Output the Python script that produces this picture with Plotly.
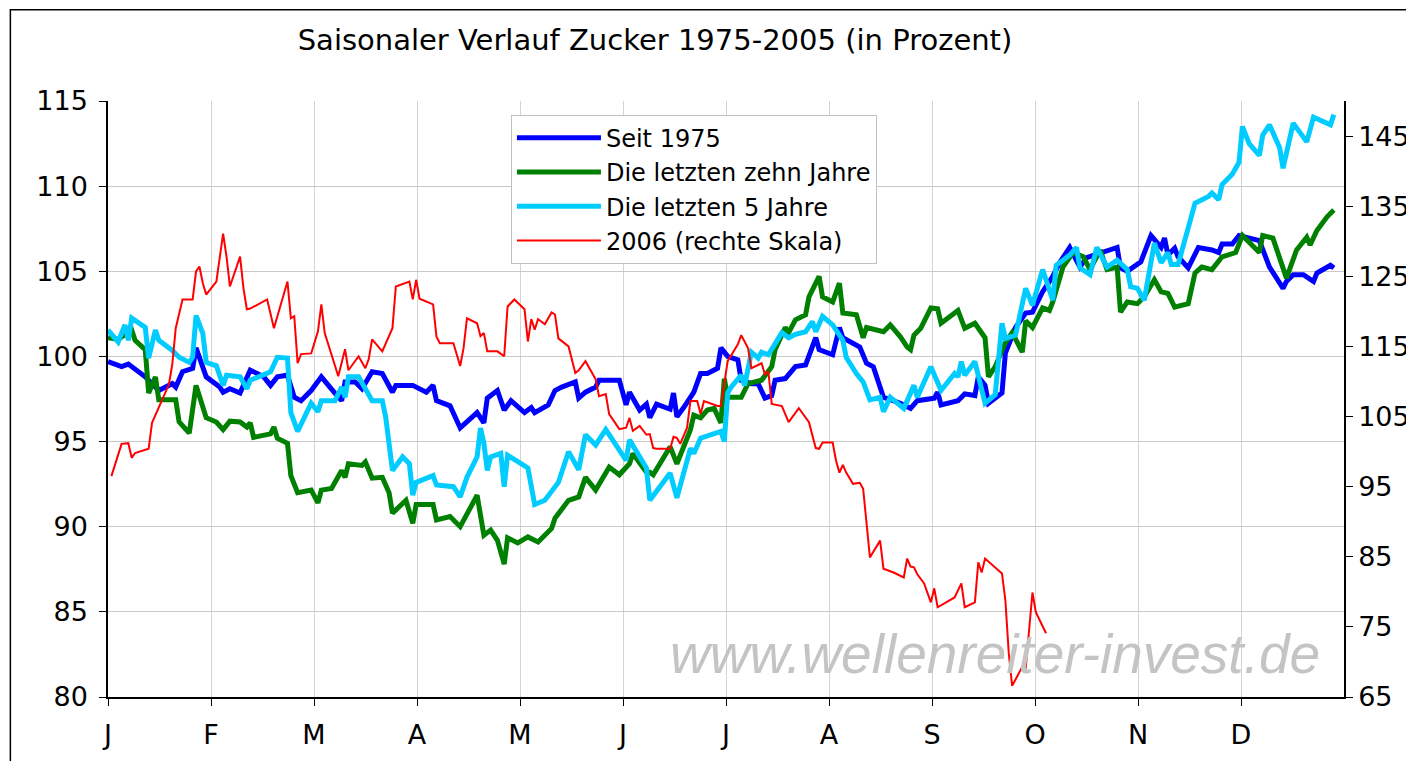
import plotly.graph_objects as go

# ---- data (x = day of year, 0..365; months equally spaced) ----
month_labels = ["J", "F", "M", "A", "M", "J", "J", "A", "S", "O", "N", "D"]

seit1975_day = [0, 4, 6, 11, 15, 16, 19, 20, 22, 25, 26, 29, 33, 34, 36, 39, 42, 46, 48, 50, 53, 55, 57, 60, 63, 67, 69, 70, 73, 75, 78, 81, 84, 85, 90, 94, 96, 97, 101, 104, 109, 111, 112, 115, 117, 119, 123, 125, 126, 130, 132, 134, 138, 139, 141, 144, 145, 151, 153, 154, 157, 159, 160, 162, 166, 167, 168, 170, 173, 175, 177, 180, 181, 183, 186, 187, 190, 192, 194, 196, 197, 200, 203, 206, 209, 210, 214, 216, 217, 222, 224, 226, 229, 234, 237, 239, 244, 245, 246, 251, 253, 256, 257, 259, 260, 264, 265, 268, 271, 273, 276, 279, 281, 284, 287, 289, 293, 298, 299, 301, 305, 308, 311, 312, 313, 315, 316, 319, 322, 326, 328, 329, 332, 334, 340, 342, 343, 347, 348, 350, 353, 356, 357, 361, 362]
seit1975_val = [99.7, 99.4, 99.55, 98.8, 98.0, 98.1, 98.4, 98.2, 99.1, 99.3, 100.5, 98.8, 98.2, 97.9, 98.1, 97.85, 99.2, 98.8, 98.3, 98.8, 98.9, 97.6, 97.4, 98.0, 98.8, 97.85, 97.4, 98.5, 98.5, 98.1, 99.1, 99.0, 97.9, 98.3, 98.3, 97.9, 98.3, 97.4, 97.1, 95.8, 96.7, 96.1, 97.55, 98.0, 96.85, 97.4, 96.7, 97.0, 96.7, 97.15, 98.0, 98.2, 98.5, 97.55, 97.9, 98.2, 98.6, 98.6, 97.15, 97.9, 96.85, 97.2, 96.4, 97.2, 96.9, 97.85, 96.45, 97.0, 97.9, 99.0, 99.0, 99.3, 100.5, 100.0, 99.8, 98.6, 98.4, 98.4, 97.55, 97.7, 98.6, 98.7, 99.4, 99.5, 101.1, 100.4, 100.1, 101.7, 101.1, 100.55, 99.6, 99.4, 97.6, 97.25, 96.95, 97.4, 97.55, 97.9, 97.15, 97.4, 97.8, 97.7, 98.8, 98.3, 97.25, 97.85, 100.2, 101.7, 102.55, 102.6, 103.8, 104.7, 105.5, 106.4, 105.25, 105.8, 106.1, 106.4, 105.2, 105.0, 105.55, 107.1, 106.4, 106.95, 105.95, 106.35, 105.85, 105.2, 106.4, 106.25, 106.1, 106.6, 106.6, 107.1, 106.8, 105.75, 105.25, 104.0, 104.4, 104.8, 104.8, 104.4, 104.9, 105.35, 105.2]

zehn_day = [0, 3, 7, 8, 11, 12, 14, 15, 20, 21, 24, 26, 29, 32, 34, 36, 39, 41, 42, 43, 48, 49, 50, 53, 54, 56, 60, 62, 63, 66, 69, 70, 71, 75, 76, 78, 81, 83, 84, 88, 90, 91, 96, 97, 101, 104, 109, 111, 113, 115, 117, 118, 121, 124, 127, 131, 132, 136, 139, 141, 144, 148, 151, 154, 155, 159, 160, 161, 166, 168, 172, 173, 175, 177, 179, 181, 182, 183, 187, 189, 193, 196, 197, 200, 201, 203, 206, 207, 210, 211, 214, 216, 217, 221, 223, 224, 229, 231, 234, 236, 237, 238, 240, 243, 245, 246, 251, 253, 256, 259, 260, 262, 265, 267, 270, 271, 273, 276, 278, 279, 282, 285, 288, 290, 293, 295, 298, 299, 301, 304, 306, 309, 311, 313, 315, 319, 321, 323, 326, 329, 333, 335, 340, 341, 344, 348, 351, 354, 355, 357, 360, 362]
zehn_val = [101.1, 101.0, 101.55, 100.95, 100.4, 97.85, 98.8, 97.45, 97.45, 96.15, 95.5, 98.3, 96.4, 96.15, 95.7, 96.2, 96.15, 95.85, 96.1, 95.25, 95.45, 95.85, 95.2, 94.9, 93.0, 92.0, 92.15, 91.4, 92.15, 92.25, 93.3, 92.9, 93.7, 93.6, 93.8, 92.85, 92.9, 92.0, 90.8, 91.55, 90.2, 91.3, 91.3, 90.4, 90.6, 90.0, 91.85, 89.5, 89.8, 89.2, 87.8, 89.35, 89.05, 89.4, 89.1, 89.9, 90.5, 91.55, 91.75, 92.9, 92.15, 93.5, 93.05, 93.7, 94.3, 93.2, 93.2, 93.05, 94.7, 93.7, 95.7, 96.55, 96.4, 96.85, 96.95, 96.1, 98.7, 97.6, 97.6, 98.4, 98.6, 99.4, 100.4, 101.7, 101.4, 102.15, 102.45, 103.5, 104.7, 103.5, 103.2, 104.3, 102.55, 102.45, 101.1, 101.7, 101.45, 101.85, 101.15, 100.55, 100.4, 101.25, 101.65, 102.85, 102.8, 101.95, 102.7, 101.65, 101.95, 101.1, 98.8, 99.4, 100.8, 101.4, 100.25, 102.1, 101.7, 102.85, 102.7, 103.2, 105.25, 106.1, 105.85, 105.1, 106.25, 105.1, 105.25, 102.6, 103.2, 103.1, 103.5, 104.5, 103.8, 103.7, 102.9, 103.1, 104.9, 105.25, 105.1, 105.85, 106.1, 107.1, 106.1, 107.1, 106.95, 104.6, 106.25, 107.0, 106.55, 107.4, 108.2, 108.6]

fuenf_day = [0, 3, 5, 6, 7, 11, 12, 14, 15, 19, 21, 24, 25, 26, 28, 29, 32, 34, 35, 39, 41, 42, 48, 50, 53, 54, 56, 60, 62, 63, 67, 69, 70, 71, 74, 78, 81, 82, 84, 87, 89, 90, 91, 96, 97, 102, 104, 106, 109, 110, 111, 112, 113, 116, 117, 118, 124, 126, 129, 133, 136, 139, 141, 144, 147, 153, 154, 159, 160, 166, 168, 172, 173, 175, 181, 182, 183, 184, 187, 188, 190, 192, 193, 195, 199, 201, 203, 206, 208, 209, 211, 214, 217, 218, 221, 223, 225, 228, 229, 231, 235, 238, 239, 243, 246, 250, 251, 252, 253, 256, 259, 262, 264, 265, 268, 271, 273, 276, 279, 280, 284, 286, 287, 290, 292, 295, 298, 301, 302, 304, 306, 309, 311, 313, 314, 316, 319, 321, 325, 326, 328, 329, 332, 334, 335, 337, 340, 341, 343, 346, 347, 350, 354, 356, 361, 362]
fuenf_val = [101.55, 100.85, 101.85, 100.95, 102.25, 101.7, 99.9, 101.55, 100.95, 100.35, 99.95, 99.65, 99.95, 102.4, 101.35, 99.65, 99.45, 98.3, 98.9, 98.8, 98.1, 98.6, 99.1, 99.95, 99.9, 96.7, 95.6, 97.25, 96.75, 97.4, 97.4, 98.2, 97.6, 98.8, 98.8, 97.4, 97.4, 96.45, 93.3, 94.1, 93.7, 91.85, 92.6, 93.0, 92.45, 92.35, 91.75, 92.9, 94.1, 95.8, 94.9, 93.3, 94.1, 94.3, 92.35, 94.2, 93.45, 91.3, 91.55, 92.6, 94.4, 93.35, 95.4, 94.8, 95.7, 93.9, 95.1, 93.45, 91.55, 93.15, 91.7, 94.6, 94.3, 95.2, 95.6, 95.0, 97.85, 98.2, 98.9, 98.3, 100.25, 99.9, 100.25, 100.1, 101.4, 101.1, 101.3, 101.45, 102.05, 101.45, 102.35, 101.85, 100.95, 99.95, 99.0, 98.5, 97.45, 97.6, 96.75, 97.6, 96.95, 98.3, 97.6, 99.4, 98.0, 99.0, 98.8, 99.7, 98.9, 99.7, 97.25, 97.75, 101.95, 101.05, 101.25, 104.0, 103.0, 105.1, 103.3, 105.35, 105.95, 106.4, 105.2, 104.8, 106.4, 105.25, 105.65, 105.1, 104.1, 104.0, 103.3, 106.65, 105.5, 106.1, 105.4, 105.4, 107.55, 109.0, 109.4, 109.6, 109.2, 110.1, 110.7, 111.4, 113.5, 112.5, 111.8, 113.0, 113.6, 112.25, 111.05, 113.7, 112.6, 114.05, 113.6, 114.2]

jahr2006_day = [1, 4, 6, 7, 8, 12, 13, 15, 18, 19, 20, 22, 25, 26, 27, 28, 29, 32, 34, 35, 36, 39, 40, 41, 42, 47, 49, 53, 54, 55, 56, 57, 60, 62, 63, 64, 68, 70, 71, 74, 76, 77, 78, 81, 84, 85, 89, 90, 91, 92, 96, 97, 98, 102, 104, 105, 106, 109, 110, 111, 112, 115, 117, 118, 120, 123, 124, 125, 126, 127, 129, 131, 132, 133, 136, 138, 139, 141, 144, 145, 147, 148, 151, 153, 154, 155, 157, 159, 160, 161, 162, 166, 167, 168, 169, 171, 172, 174, 175, 176, 180, 181, 183, 186, 187, 189, 190, 193, 194, 195, 196, 199, 201, 204, 207, 209, 210, 211, 214, 215, 216, 217, 218, 220, 222, 223, 225, 228, 229, 232, 235, 236, 237, 238, 239, 241, 243, 244, 245, 250, 252, 253, 256, 257, 258, 259, 262, 264, 265, 266, 267, 270, 271, 273, 274, 277]
jahr2006_val = [96.5, 101.1, 101.2, 99.1, 99.8, 100.4, 104.1, 106.2, 109.6, 112.5, 117.6, 121.7, 121.7, 125.7, 126.4, 124.0, 122.4, 124.25, 131.1, 127.8, 123.55, 127.8, 123.3, 120.3, 120.4, 121.7, 117.6, 124.25, 119.0, 119.3, 112.6, 113.9, 114.0, 117.15, 121.0, 116.9, 110.75, 114.6, 111.6, 113.6, 111.9, 113.2, 116.0, 114.3, 117.6, 123.55, 124.25, 121.7, 124.5, 121.8, 121.0, 116.4, 115.45, 115.45, 112.2, 114.75, 119.0, 118.3, 116.45, 116.9, 114.3, 114.3, 113.6, 120.7, 121.7, 120.3, 115.7, 118.9, 117.4, 118.9, 118.15, 119.85, 119.55, 116.15, 115.0, 111.2, 111.6, 112.9, 110.3, 107.9, 108.2, 105.35, 103.2, 103.4, 104.8, 102.95, 103.65, 102.4, 102.5, 100.5, 100.4, 100.4, 102.1, 101.95, 101.1, 103.4, 107.2, 107.2, 105.35, 107.2, 106.5, 106.5, 112.9, 115.3, 116.6, 114.75, 111.9, 112.6, 111.0, 111.45, 106.8, 106.5, 104.2, 106.2, 104.2, 100.5, 100.4, 101.3, 101.3, 98.7, 97.0, 98.1, 97.0, 95.4, 95.55, 94.7, 84.9, 87.3, 83.3, 82.75, 82.05, 84.75, 83.6, 83.5, 82.5, 81.2, 78.5, 80.5, 77.8, 79.2, 81.2, 77.8, 78.5, 84.2, 82.75, 84.75, 83.5, 82.6, 78.8, 71.25, 66.6, 69.3, 69.1, 79.9, 77.1, 74.1]

left_ticks = [80, 85, 90, 95, 100, 105, 110, 115]
right_ticks = [65, 75, 85, 95, 105, 115, 125, 135, 145]

# ---- figure ----
FONT = "DejaVu Sans, Liberation Sans, Arial, sans-serif"
fig = go.Figure()
fig.add_trace(go.Scatter(x=seit1975_day, y=seit1975_val, mode="lines", name="Seit 1975",
                         line=dict(color="#0000FF", width=5)))
fig.add_trace(go.Scatter(x=zehn_day, y=zehn_val, mode="lines", name="Die letzten zehn Jahre",
                         line=dict(color="#008000", width=5)))
fig.add_trace(go.Scatter(x=fuenf_day, y=fuenf_val, mode="lines", name="Die letzten 5 Jahre",
                         line=dict(color="#00CCFF", width=5)))
fig.add_trace(go.Scatter(x=jahr2006_day, y=jahr2006_val, mode="lines", name="2006 (rechte Skala)",
                         line=dict(color="#FF0000", width=2), yaxis="y2"))

month_pos = [i * 365 / 12 for i in range(12)]

fig.update_layout(
    width=1414, height=761,
    margin=dict(l=100, r=73, t=93, b=72),
    paper_bgcolor="white", plot_bgcolor="white",
    font=dict(family=FONT, size=27, color="black"),
    title=dict(text="Saisonaler Verlauf Zucker 1975-2005 (in Prozent)",
               x=647 / 1414, xref="container", xanchor="center",
               y=1 - 32 / 761, yref="container", yanchor="middle",
               font=dict(family=FONT, size=29, color="black")),
    xaxis=dict(range=[0, 365], tickvals=month_pos, ticktext=month_labels,
               showgrid=True, gridcolor="#d4d4d4", gridwidth=1,
               showline=True, linecolor="black", linewidth=1.5,
               ticks="outside", ticklen=7, tickcolor="black", tickwidth=1,
               tickfont=dict(size=27), ticklabelstandoff=6, zeroline=False),
    yaxis=dict(range=[80, 115], tickvals=left_ticks,
               showgrid=True, gridcolor="#c8c8c8", gridwidth=1,
               showline=True, linecolor="black", linewidth=1.5,
               ticks="outside", ticklen=7, tickcolor="black",
               tickfont=dict(size=27), ticklabelstandoff=6, zeroline=False),
    yaxis2=dict(range=[65, 150], tickvals=right_ticks, overlaying="y", side="right",
                showgrid=False, showline=True, linecolor="black", linewidth=1.5,
                ticks="outside", ticklen=7, tickcolor="black",
                tickfont=dict(size=27), zeroline=False),
    legend=dict(x=0.326, y=0.977, xanchor="left", yanchor="top",
                bgcolor="white", bordercolor="#c0c0c0", borderwidth=1,
                font=dict(family=FONT, size=24, color="black"),
                tracegroupgap=0, itemwidth=84),
    showlegend=True,
)

# outer frame of the chart
fig.add_shape(type="rect", xref="paper", yref="paper",
              x0=-0.079, x1=1.2, y0=-0.3, y1=1.153,
              line=dict(color="black", width=1.5), fillcolor="rgba(0,0,0,0)", layer="below")

# watermark
fig.add_annotation(text="www.wellenreiter-invest.de", xref="paper", yref="paper",
                   x=0.718, y=0.072, xanchor="center", yanchor="middle", showarrow=False,
                   font=dict(family="Liberation Sans, Arial, sans-serif", size=55,
                             color="#c4c4c4", style="italic"))

fig.write_html("out.html")
